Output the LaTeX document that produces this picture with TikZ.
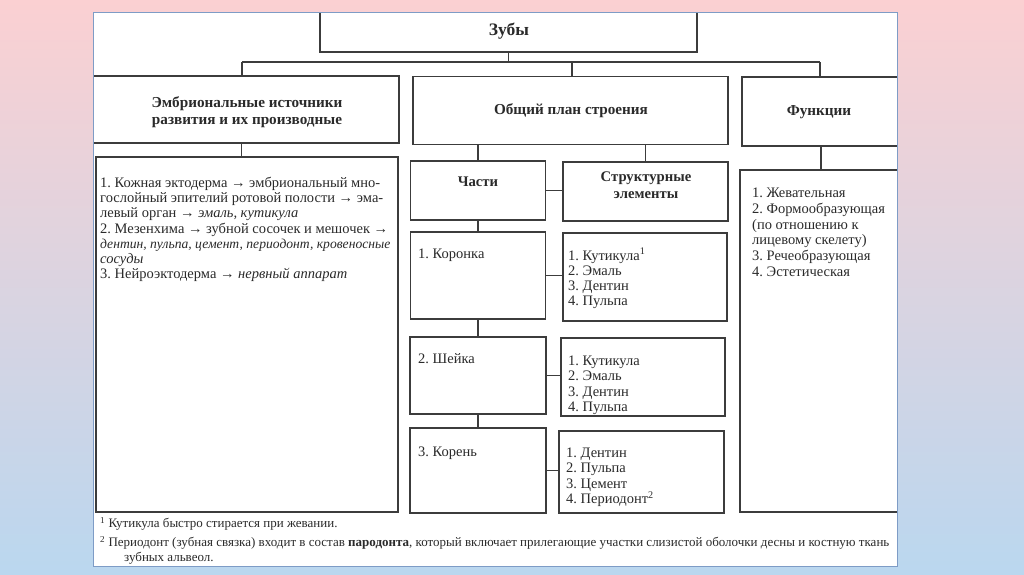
\documentclass[tikz,border=0pt]{standalone}
\usepackage{fontspec}
\setmainfont{Liberation Serif}
\usetikzlibrary{calc}
\definecolor{bgpink}{HTML}{FBD0D2}
\definecolor{bgmid}{HTML}{D9D6EA}
\definecolor{bgblue}{HTML}{BAD7EF}
\definecolor{frame}{HTML}{7E9CC6}
\definecolor{ink}{HTML}{2A2A2A}
\definecolor{edge}{HTML}{3C3C3C}
\frenchspacing
\tikzset{
  box/.style={draw=edge, line width=1.1pt, fill=none, inner sep=0pt, outer sep=0pt, rectangle},
  conn/.style={draw=edge, line width=1.1pt},
  body/.style={anchor=north west, inner sep=0pt, align=left, text=ink, font=\fontsize{14.5}{15.2}\selectfont},
  head/.style={inner sep=0pt, align=center, text=ink, font=\bfseries\fontsize{15.2}{16.5}\selectfont},
  headb/.style={inner sep=0pt, align=center, text=ink, font=\bfseries\fontsize{14.7}{16.5}\selectfont},
  note/.style={anchor=west, inner sep=0pt, text=ink, font=\fontsize{13}{15}\selectfont}
}
\begin{document}
\begin{tikzpicture}[x=1pt, y=-1pt]
\useasboundingbox (0,0) rectangle (1024,574);
\shade[top color=bgpink, middle color=bgmid, bottom color=bgblue] (0,0) rectangle (1024,574);
\fill[white] (93,12) rectangle (897,566);
\begin{scope}
\clip (93,12) rectangle (897,566);
% boxes
\node[box, minimum width=377pt, minimum height=46pt] (zuby) at (508.5,29) {};
\node[box, minimum width=315pt, minimum height=67pt] (emb) at (241.5,109.5) {};
\node[box, minimum width=315pt, minimum height=68pt] (plan) at (570.5,110.5) {};
\node[box, minimum width=162pt, minimum height=69pt] (func) at (823,111.5) {};
\node[box, minimum width=302pt, minimum height=355pt] (embL) at (247,334.5) {};
\node[box, minimum width=135pt, minimum height=59pt] (chasti) at (478,190.5) {};
\node[box, minimum width=165pt, minimum height=59pt] (struct) at (645.5,191.5) {};
\node[box, minimum width=135pt, minimum height=87pt] (koronka) at (478,275.5) {};
\node[box, minimum width=164pt, minimum height=88pt] (s1) at (645,277) {};
\node[box, minimum width=136pt, minimum height=77pt] (sheika) at (478,375.5) {};
\node[box, minimum width=164pt, minimum height=78pt] (s2) at (643,377) {};
\node[box, minimum width=136pt, minimum height=85pt] (koren) at (478,470.5) {};
\node[box, minimum width=165pt, minimum height=82pt] (s3) at (641.5,472) {};
\node[box, minimum width=162pt, minimum height=342pt] (funcL) at (821,341) {};
\end{scope}
% connectors
\coordinate (j) at (508.5,62);
\coordinate (jl) at (242,62);
\coordinate (jr) at (820,62);
\coordinate (jm) at (572,62);
\draw[conn] (zuby.south) -- (j);
\draw[conn] (jl) -- (jr);
\draw[conn] (jl) -- (jl |- emb.north);
\draw[conn] (jm) -- (jm |- plan.north);
\draw[conn] (jr) -- (jr |- func.north);
\draw[conn] (emb.south) -- (emb.south |- embL.north);
\draw[conn] (chasti.north) -- (chasti.north |- plan.south);
\draw[conn] (struct.north) -- (struct.north |- plan.south);
\draw[conn] (chasti.east) -- (chasti.east -| struct.west);
\draw[conn] (chasti.south) -- (koronka.north);
\draw[conn] (koronka.south) -- (sheika.north);
\draw[conn] (sheika.south) -- (koren.north);
\draw[conn] (koronka.east) -- (koronka.east -| s1.west);
\draw[conn] (sheika.east) -- (sheika.east -| s2.west);
\draw[conn] (koren.east) -- (koren.east -| s3.west);
\draw[conn] (funcL.north |- func.south) -- (funcL.north);
% panel frame
\draw[frame, line width=1pt] (93,12) rectangle (897,566);
% texts
\node[head, font=\bfseries\fontsize{17.5}{18}\selectfont] (tzuby) at (509,31) {Зубы};
\node[head] (temb) at (247,112) {Эмбриональные источники\\развития и их производные};
\node[head] (tplan) at (571,111) {Общий план строения};
\node[head] (tfunc) at (819,112) {Функции};
\node[headb] (tchasti) at (478,182) {Части};
\node[headb] (tstruct) at (646,185) {Структурные\\элементы};
\node[body] (tembL) at (100,177) {1. Кожная эктодерма → эмбриональный мно-\\
гослойный эпителий ротовой полости → эма-\\
левый орган → \textit{эмаль, кутикула}\\
2. Мезенхима → зубной сосочек и мешочек →\\
{\fontsize{13.6}{15.2}\selectfont\textit{дентин, пульпа, цемент, периодонт, кровеносные}}\\
\textit{сосуды}\\
3. Нейроэктодерма → \textit{нервный аппарат}};
\node[body] (tkor) at (418,249) {1. Коронка};
\node[body] (ts1) at (568,248) {1. Кутикула\textsuperscript{1}\\2. Эмаль\\3. Дентин\\4. Пульпа};
\node[body] (tshe) at (418,353) {2. Шейка};
\node[body] (ts2) at (568,356) {1. Кутикула\\2. Эмаль\\3. Дентин\\4. Пульпа};
\node[body] (tkoren) at (418,447) {3. Корень};
\node[body] (ts3) at (566,448) {1. Дентин\\2. Пульпа\\3. Цемент\\4. Периодонт\textsuperscript{2}};
\node[body, font=\fontsize{14.5}{15.7}\selectfont] (tfuncL) at (752,188) {1. Жевательная\\2. Формообразующая\\(по отношению к\\лицевому скелету)\\3. Речеобразующая\\4. Эстетическая};
\node[note] (fn1) at (100,524) {\textsuperscript{1} Кутикула быстро стирается при жевании.};
\node[note] (fn2) at (100,543) {\textsuperscript{2} Периодонт (зубная связка) входит в состав \textbf{пародонта}, который включает прилегающие участки слизистой оболочки десны и костную ткань};
\node[note] (fn3) at (124,558) {зубных альвеол.};
\end{tikzpicture}
\end{document}
